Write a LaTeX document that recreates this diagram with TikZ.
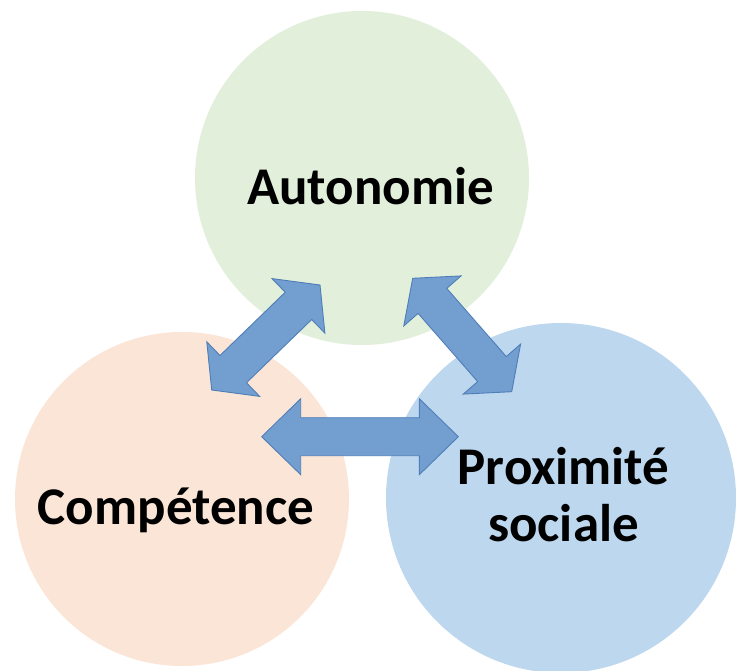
\documentclass[tikz,border=0pt]{standalone}
\usepackage{fontspec}
\setmainfont{Carlito}
\usetikzlibrary{calc}
\definecolor{cgreen}{HTML}{E2EFDA}
\definecolor{cpeach}{HTML}{FBE5D6}
\definecolor{cblue}{HTML}{BDD7EE}
\definecolor{arrfill}{HTML}{729FCF}
\definecolor{arrline}{HTML}{4F7DB8}
\tikzset{
  bubble/.style={circle, draw=none, inner sep=0pt},
  label text/.style={font=\fontsize{53}{57}\selectfont\bfseries, inner sep=0pt, anchor=base},
  blockarrow/.style={fill=arrfill, draw=arrline, line width=0.9pt, line join=miter},
}
% double block arrow between two named tip coordinates
% #1 tip A, #2 tip B, #3 head length
\newcommand\dblarr[3]{%
  \draw[blockarrow]
    (#1)
    -- ($(#1)!#3!(#2)!38pt!90:(#2)$)
    -- ($(#1)!#3!(#2)!19pt!90:(#2)$)
    -- ($(#2)!#3!(#1)!19pt!-90:(#1)$)
    -- ($(#2)!#3!(#1)!38pt!-90:(#1)$)
    -- (#2)
    -- ($(#2)!#3!(#1)!38pt!90:(#1)$)
    -- ($(#2)!#3!(#1)!19pt!90:(#1)$)
    -- ($(#1)!#3!(#2)!19pt!-90:(#2)$)
    -- ($(#1)!#3!(#2)!38pt!-90:(#2)$)
    -- cycle;}
\begin{document}
\begin{tikzpicture}[x=1pt,y=-1pt]
\useasboundingbox (0,0) rectangle (737,671);
\fill[white] (0,0) rectangle (737,671);
% circles
\node[bubble, fill=cgreen, minimum size=334pt] (auto) at (362,178) {};
\node[bubble, fill=cpeach, minimum size=334pt] (comp) at (182,499) {};
\node[bubble, fill=cblue, minimum size=350pt] (prox) at (561,498) {};
% arrow tips
\coordinate (a1) at (211.7,390);
\coordinate (b1) at (320,285);
\coordinate (a2) at (412.7,278.3);
\coordinate (b2) at (511.7,391.7);
\coordinate (a3) at (261.7,436.7);
\coordinate (b3) at (458.3,436.7);
\dblarr{a1}{b1}{30pt}
\dblarr{a2}{b2}{30pt}
\dblarr{a3}{b3}{39pt}
% labels
\node[label text] (tauto) at (370.5,205) {Autonomie};
\node[label text] (tcomp) at (176,524) {Compétence};
\node[label text] (tprox1) at (563.5,484) {Proximité};
\node[label text] (tprox2) at (563.5,541) {sociale};
\end{tikzpicture}
\end{document}
